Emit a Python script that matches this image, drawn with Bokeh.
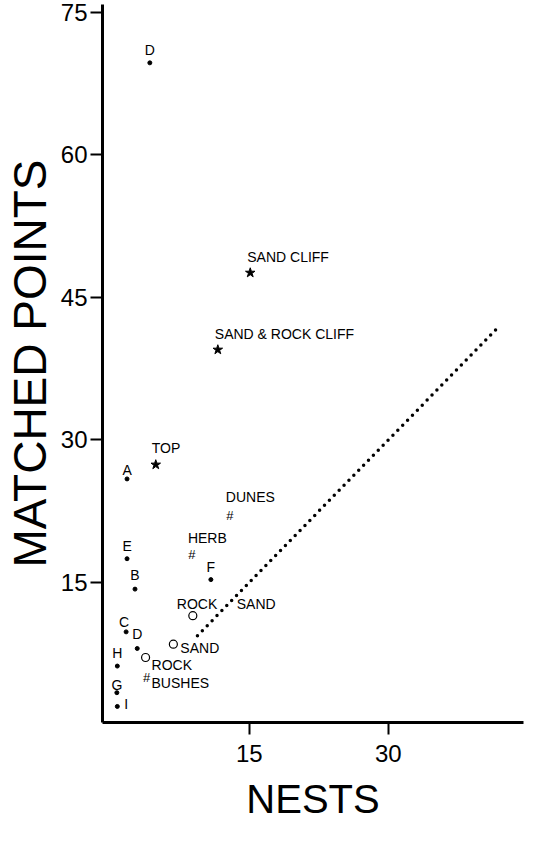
from bokeh.plotting import figure
from bokeh.models import ColumnDataSource, FixedTicker, Range1d
from bokeh.embed import file_html
from bokeh.resources import INLINE
from bokeh.core.properties import value

# ---- data ----
labels = ["D", "SAND CLIFF", "SAND & ROCK CLIFF", "TOP", "A", "DUNES", "HERB",
          "E", "F", "B", "ROCK\u00a0\u00a0\u00a0\u00a0\u00a0SAND", "C", "D",
          "SAND", "ROCK", "BUSHES", "H", "G", "I"]
nests = [4.26, 15.1, 11.6, 4.9, 1.8, 12.9, 8.8,
         1.8, 10.85, 2.66, 8.9, 1.7, 2.9,
         6.8, 3.8, 3.9, 0.75, 0.7, 0.75]
matched = [69.7, 47.6, 39.5, 27.4, 25.9, 22.1, 17.9,
           17.5, 15.3, 14.3, 11.5, 9.8, 8.05,
           8.5, 7.1, 5.0, 6.2, 3.4, 1.95]
kinds = ["dot", "star", "star", "star", "dot", "hash", "hash",
         "dot", "dot", "dot", "circle", "dot", "dot",
         "circle", "circle", "hash", "dot", "dot", "dot"]
line_x = [9.4, 42.0]
line_y = [9.4, 42.0]
x_ticks = [15, 30]
y_ticks = [15, 30, 45, 60, 75]

# ---- label styling (pixel offsets / alignment per point) ----
label_dx = [0, -3, -3, -4, 0, -4, -4, 0, 0, 0, -16, -2, 0, 7, 6, 5, 0, 0, 7]
label_dy = [-13, -16, -16, -17, -9, -18, -17, -13, -13, -14, -12, -10, -14, 4, 7, 6, -13, -8, -2]
label_align = ["center", "left", "left", "left", "center", "left", "left",
               "center", "center", "center", "left", "center", "center",
               "left", "left", "left", "center", "center", "left"]

FONT = "Liberation Sans"

p = figure(width=534, height=830, output_backend="svg", toolbar_location=None,
           x_range=Range1d(-0.85, 44.6), y_range=Range1d(0.26, 75.84),
           min_border_left=94, min_border_right=11, min_border_top=4, min_border_bottom=108)
p.outline_line_color = None
p.grid.visible = False
p.background_fill_color = "white"
p.border_fill_color = "white"

for ax, ticks in ((p.xaxis, x_ticks), (p.yaxis, y_ticks)):
    ax.ticker = FixedTicker(ticks=ticks)
    ax.axis_line_width = 3
    ax.axis_line_color = "black"
    ax.major_tick_line_width = 2
    ax.major_tick_line_color = "black"
    ax.major_tick_out = 12
    ax.major_tick_in = 0
    ax.minor_tick_line_color = None
    ax.major_label_text_font = FONT
    ax.major_label_text_font_size = "24px"
    ax.major_label_text_color = "black"
    ax.axis_label_text_font = FONT
    ax.axis_label_text_font_style = "normal"
    ax.axis_label_text_color = "black"

p.xaxis.axis_label = "NESTS"
p.xaxis.axis_label_text_font_size = "40px"
p.xaxis.major_label_standoff = 10
p.xaxis.axis_label_standoff = 12
p.yaxis.axis_label = "MATCHED POINTS"
p.yaxis.axis_label_text_font_size = "46px"
p.yaxis.major_label_standoff = 3
p.yaxis.axis_label_standoff = 2

# dotted reference line
p.line(line_x, line_y, line_color="black", line_width=3.5, line_dash="0 7", line_cap="round")

def sel(kind):
    idx = [i for i, k in enumerate(kinds) if k == kind]
    return [nests[i] for i in idx], [matched[i] for i in idx]

dx, dy = sel("dot")
p.scatter(dx, dy, marker="circle", size=4, fill_color="black", line_color="black")
sx, sy = sel("star")
p.scatter(sx, sy, marker="star", size=10, fill_color="black", line_color="black")
cx, cy = sel("circle")
p.scatter(cx, cy, marker="circle", size=8, fill_color="white", line_color="black", line_width=1.2)
hx, hy = sel("hash")
p.text(hx, hy, text=["#"] * len(hx), text_align="center", text_baseline="middle",
       text_font=value(FONT), text_font_size="13px", text_color="black")

src = ColumnDataSource(dict(x=nests, y=matched, t=labels, dx=label_dx, dy=label_dy, al=label_align))
p.text(x="x", y="y", text="t", x_offset="dx", y_offset="dy", text_align="al",
       text_baseline="middle", text_font=value(FONT), text_font_size="14px",
       text_color="black", source=src)

open("out.html", "w").write(file_html(p, INLINE))
